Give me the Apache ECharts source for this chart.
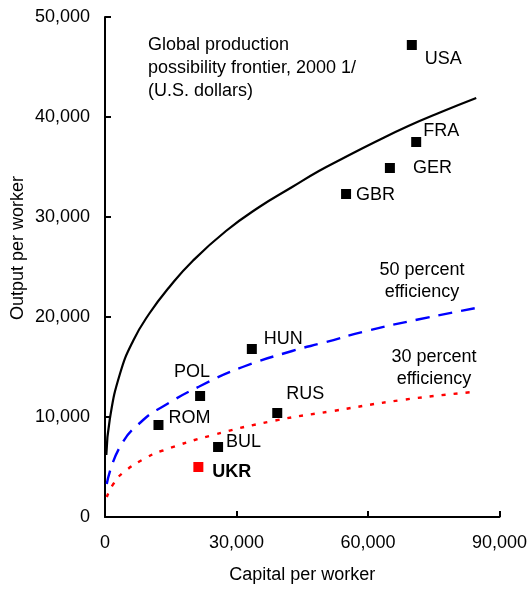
<!DOCTYPE html>
<html>
<head>
<meta charset="utf-8">
<title>Global production possibility frontier</title>
<script src="https://cdn.jsdelivr.net/npm/echarts@6/dist/echarts.min.js"></script>
<style>
  html, body { margin: 0; padding: 0; background: #fff; }
  #chart { width: 530px; height: 589px; }
</style>
</head>
<body>
<div id="chart"></div>
<script>
// Capital per worker (x) vs output per worker (y), U.S. dollars, 2000
var xTicks = [0, 30000, 60000, 90000];
var yTicks = [0, 10000, 20000, 30000, 40000, 50000];

// Global production possibility frontier
var frontier = [
  [300, 6200], [1100, 9800], [3400, 14300], [6400, 17600], [10200, 20400],
  [14700, 23000], [20000, 25600], [27600, 28600], [35200, 31000], [42700, 33000],
  [48800, 34600], [54000, 35800], [61600, 37500], [69200, 39100], [76700, 40500],
  [84700, 41900]
];

// 50 percent efficiency curve
var eff50 = [
  [400, 3300], [3400, 7000], [8700, 9700], [13600, 11150], [21500, 13050],
  [31400, 15000], [42700, 16600], [50000, 17450], [60100, 18650], [71400, 19750],
  [84700, 20900]
];

// 30 percent efficiency curve
var eff30 = [
  [400, 2000], [1900, 3300], [4200, 4450], [9500, 5950], [13200, 6650],
  [24200, 8150], [38900, 9650], [52000, 10600], [67700, 11700], [83900, 12500]
];

// Countries: capital per worker, output per worker
var countries = ['USA', 'FRA', 'GER', 'GBR', 'HUN', 'POL', 'ROM', 'RUS', 'BUL'];
var capital  = [70000, 71000, 65000, 55000, 33500, 21700, 12200, 39300, 25800];
var output   = [47200, 37500, 34900, 32300, 16800, 12100, 9200, 10400, 7000];
// Label offsets from each marker (text left edge, text middle)
var labelOffsets = [[13, 14], [7, -11], [23, 0], [10, 1], [12, -10], [-26, -24], [10, -7], [9, -19], [8, -5]];

var ukrName = 'UKR';
var ukrPoint = [21300, 5000];

var FONT = 'Arial, "Liberation Sans", Helvetica, sans-serif';
var FS = 18;

var countryData = countries.map(function (name, i) {
  return {
    name: name,
    value: [capital[i], output[i]],
    label: { offset: labelOffsets[i] }
  };
});

var chart = echarts.init(document.getElementById('chart'), null, { renderer: 'canvas' });

var axisCommon = {
  type: 'value',
  splitLine: { show: false },
  axisLine: { show: true, onZero: false, lineStyle: { color: '#000', width: 2 } },
  axisTick: { show: true, inside: true, length: 6, lineStyle: { color: '#000', width: 2 } },
  axisLabel: {
    color: '#000', fontFamily: FONT, fontSize: FS,
    formatter: function (v) { return v.toLocaleString('en-US'); }
  }
};

chart.setOption({
  animation: false,
  backgroundColor: '#fff',
  grid: { left: 105, right: 28, top: 17, bottom: 72, containLabel: false },
  xAxis: echarts.util.merge({
    min: xTicks[0], max: xTicks[xTicks.length - 1], interval: xTicks[1] - xTicks[0],
    name: 'Capital per worker',
    nameLocation: 'middle',
    nameGap: 49,
    nameTextStyle: { color: '#000', fontFamily: FONT, fontSize: FS },
    axisLabel: { margin: 17 }
  }, axisCommon),
  yAxis: echarts.util.merge({
    min: yTicks[0], max: yTicks[yTicks.length - 1], interval: yTicks[1] - yTicks[0],
    axisLabel: { margin: 15 }
  }, axisCommon),
  graphic: [
    {
      type: 'text', x: 18, y: 248, rotation: Math.PI / 2,
      style: { text: 'Output per worker', fill: '#000', font: FS + 'px ' + FONT, align: 'center', verticalAlign: 'middle' }
    },
    {
      type: 'text', x: 148, y: 68,
      style: {
        text: 'Global production\npossibility frontier, 2000 1/\n(U.S. dollars)',
        fill: '#000', font: FS + 'px ' + FONT, lineHeight: 23, align: 'left', verticalAlign: 'middle'
      }
    },
    {
      type: 'text', x: 422, y: 281,
      style: { text: '50 percent\nefficiency', fill: '#000', font: FS + 'px ' + FONT, lineHeight: 22, align: 'center', verticalAlign: 'middle' }
    },
    {
      type: 'text', x: 434, y: 368,
      style: { text: '30 percent\nefficiency', fill: '#000', font: FS + 'px ' + FONT, lineHeight: 22, align: 'center', verticalAlign: 'middle' }
    }
  ],
  series: [
    {
      name: 'Frontier', type: 'line', data: frontier, smooth: 0.5,
      showSymbol: false, symbol: 'none',
      lineStyle: { color: '#000', width: 2.2 }, z: 2
    },
    {
      name: '50 percent efficiency', type: 'line', data: eff50, smooth: 0.5,
      showSymbol: false, symbol: 'none',
      lineStyle: { color: '#0000ff', width: 2.4, type: [14, 9] }, z: 2
    },
    {
      name: '30 percent efficiency', type: 'line', data: eff30, smooth: 0.5,
      showSymbol: false, symbol: 'none',
      lineStyle: { color: '#ff0000', width: 2.4, type: [4, 8] }, z: 2
    },
    {
      name: 'Countries', type: 'scatter', data: countryData,
      symbol: 'rect', symbolSize: 10,
      itemStyle: { color: '#000', opacity: 1 },
      label: {
        show: true, position: 'inside', align: 'left', verticalAlign: 'middle',
        formatter: '{b}', color: '#000', fontFamily: FONT, fontSize: FS
      },
      z: 5
    },
    {
      name: ukrName, type: 'scatter',
      data: [{ name: ukrName, value: ukrPoint }],
      symbol: 'rect', symbolSize: 10,
      itemStyle: { color: '#ff0000', opacity: 1 },
      label: {
        show: true, position: 'inside', align: 'left', verticalAlign: 'middle', offset: [14, 5],
        formatter: '{b}', color: '#000', fontFamily: FONT, fontSize: FS, fontWeight: 'bold'
      },
      z: 5
    }
  ]
});
</script>
</body>
</html>
